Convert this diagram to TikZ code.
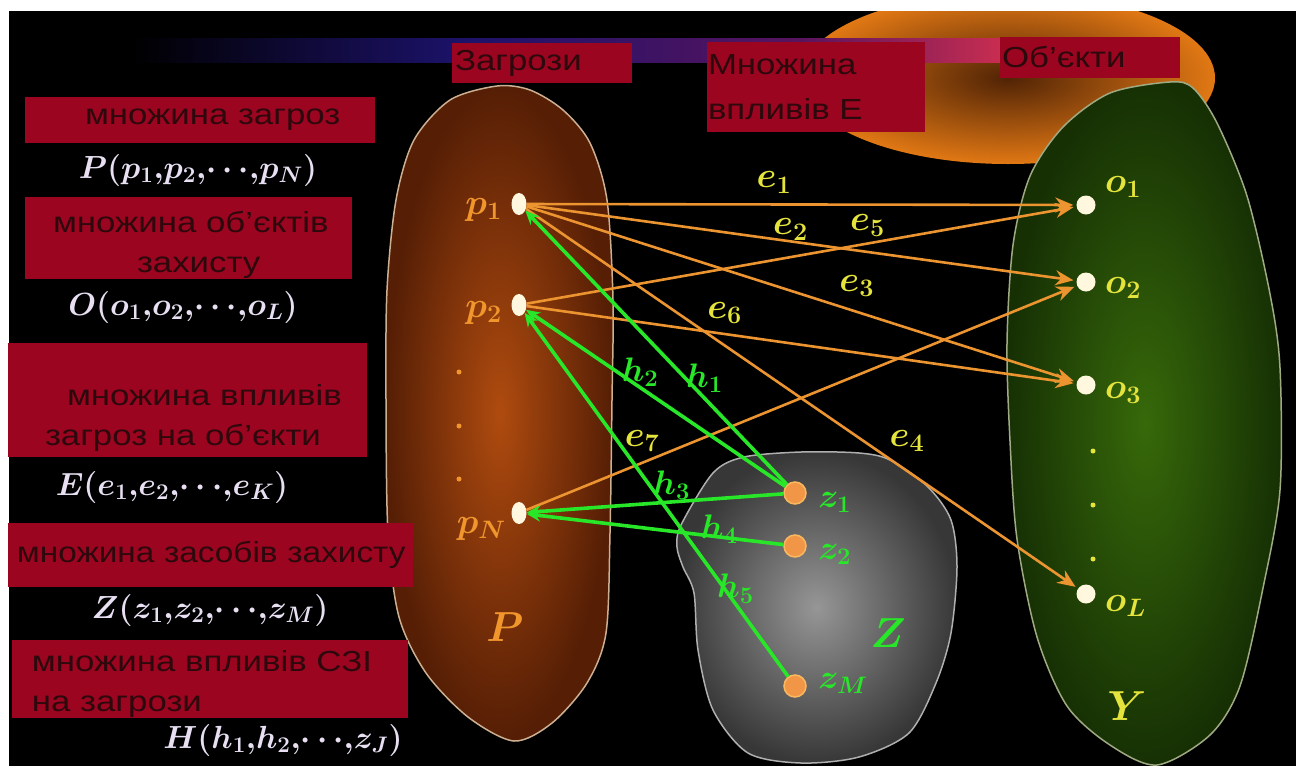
\RequirePackage{fix-cm}
\documentclass[tikz,border=0pt]{standalone}
\usepackage[no-math]{fontspec}
\setmainfont{Liberation Sans}[FakeStretch=1.2]
\newfontfamily\narrowsans{Liberation Sans}[FakeStretch=1.15]
\usepackage{amsmath}
\usetikzlibrary{arrows.meta, positioning, shapes.geometric}
\definecolor{boxred}{RGB}{155,5,32}
\definecolor{boxtext}{RGB}{45,8,12}
\definecolor{pale}{RGB}{232,224,242}
\definecolor{threat}{RGB}{240,150,45}
\definecolor{impact}{RGB}{236,148,48}
\definecolor{elabel}{RGB}{228,228,60}
\definecolor{shield}{RGB}{40,230,40}
\definecolor{cream}{RGB}{255,248,222}
\definecolor{zfill}{RGB}{240,150,70}
\definecolor{zrim}{RGB}{250,185,95}
\definecolor{navy}{RGB}{28,18,105}
\definecolor{plum}{RGB}{88,20,95}
\definecolor{rose}{RGB}{200,45,80}
\definecolor{glowin}{RGB}{80,35,5}
\definecolor{glowout}{RGB}{225,120,20}
\definecolor{pcore}{RGB}{175,75,15}
\definecolor{pedge}{RGB}{85,30,5}
\definecolor{pline}{RGB}{205,175,145}
\definecolor{zcore}{RGB}{150,150,150}
\definecolor{zedge}{RGB}{55,55,55}
\definecolor{zline}{RGB}{175,175,175}
\definecolor{ycore}{RGB}{55,105,10}
\definecolor{yedge}{RGB}{22,48,4}
\definecolor{yline}{RGB}{160,170,130}

\begin{document}
\begin{tikzpicture}[x=1pt, y=-1pt,
  redtag/.style={fill=boxred, text=boxtext, inner sep=0pt, align=left,
    font=\fontsize{29}{40}\selectfont},
  setlbl/.style={text=pale, font=\fontsize{32}{40}\selectfont\boldmath},
  pdot/.style={ellipse, fill=cream, minimum width=15, minimum height=22, inner sep=0pt},
  odot/.style={circle, fill=cream, minimum size=19, inner sep=0pt},
  zdot/.style={circle, fill=zfill, draw=zrim, line width=1.5, minimum size=22, inner sep=0pt},
  eline/.style={impact, line width=2.6, -{Stealth[length=18pt, width=15pt]}, shorten >=3pt},
  hline/.style={shield, line width=3.6, -{Stealth[length=14pt, width=12pt]}},
  elab/.style={text=elabel, font=\fontsize{36}{40}\selectfont\boldmath},
  hlab/.style={text=shield, font=\fontsize{34}{40}\selectfont\boldmath},
  plab/.style={text=threat, font=\fontsize{36}{40}\selectfont\boldmath},
  olab/.style={text=elabel, font=\fontsize{36}{40}\selectfont\boldmath},
  zlab/.style={text=shield, font=\fontsize{34}{40}\selectfont\boldmath},
  dotdot/.style={circle, inner sep=0pt, minimum size=5}]
  \useasboundingbox (0,0) rectangle (1298,769);
  \fill[white] (0,0) rectangle (1298,769);
  \fill[black] (9,11) rectangle (1296,766);

  % тло: сяйво, смуга, множини
  \begin{scope}
    \clip (9,11) rectangle (1296,766);
    \shade[inner color=glowin, outer color=glowout] (1008,78) ellipse [x radius=207, y radius=86];
    \shade[left color=black, right color=navy] (130,38) rectangle (460,62);
    \shade[left color=navy, right color=plum] (460,38) rectangle (800,62);
    \shade[left color=plum, right color=rose] (800,38) rectangle (1000,62);
    \shade[inner color=pcore, outer color=pedge, draw=pline, line width=1.5]
      plot[smooth cycle] coordinates {(497,86) (530,90) (563,110) (590,143) (607,200)
        (613,300) (612,400) (610,533) (606,633) (587,683) (552,723) (514,741)
        (468,717) (426,673) (399,617) (388,533) (386,400) (387,290) (396,200)
        (414,140) (450,100)};
    \shade[inner color=zcore, outer color=zedge, draw=zline, line width=1.5]
      plot[smooth cycle] coordinates {(713,473) (744,457) (801,452) (859,453)
        (890,460) (928,487) (951,520) (957,567) (951,633) (936,683) (909,733)
        (859,757) (801,763) (748,753) (713,710) (698,650) (694,593) (683,567)
        (677,547) (681,525)};
    \shade[inner color=ycore, outer color=yedge, draw=yline, line width=1.5]
      plot[smooth cycle] coordinates {(1170,82) (1110,93) (1063,127) (1030,176)
        (1013,245) (1007,343) (1010,441) (1017,539) (1037,637) (1067,706)
        (1110,745) (1157,765) (1210,735) (1240,686) (1263,588) (1280,490)
        (1280,368) (1270,294) (1247,196) (1217,123) (1193,88)};
  \end{scope}

  % вершини
  \node[pdot] (p1) at (519,204) {};
  \node[pdot] (p2) at (519,305) {};
  \node[pdot] (pN) at (519,513) {};
  \node[odot] (o1) at (1086,205) {};
  \node[odot] (o2) at (1086,282) {};
  \node[odot] (o3) at (1086,385) {};
  \node[odot] (oL) at (1086,594) {};
  \node[zdot] (z1) at (795,493) {};
  \node[zdot] (z2) at (795,546) {};
  \node[zdot] (zM) at (795,686) {};
  \foreach \y in {372,426,479}
    \node[dotdot, fill=threat] at (459,\y) {};
  \foreach \y in {451,505,559}
    \node[dotdot, fill=elabel] at (1093,\y) {};

  \node[plab, left=6pt of p1, yshift=-6pt] (lp1) {$p_1$};
  \node[plab, left=6pt of p2, yshift=-8pt] (lp2) {$p_2$};
  \node[plab, left=2pt of pN, yshift=-16pt] (lpN) {$p_N$};
  \node[olab, right=6pt of o1, yshift=18pt] (lo1) {$o_1$};
  \node[olab, right=6pt of o2, yshift=-6pt] (lo2) {$o_2$};
  \node[olab, right=6pt of o3, yshift=-8pt] (lo3) {$o_3$};
  \node[olab, right=6pt of oL, yshift=-12pt] (loL) {$o_L$};
  \node[zlab, right=8pt of z1, yshift=-9pt] (lz1) {$z_1$};
  \node[zlab, right=8pt of z2, yshift=-8pt] (lz2) {$z_2$};
  \node[zlab, right=8pt of zM, yshift=3pt] (lzM) {$z_M$};
  \node[plab, font=\fontsize{42}{44}\selectfont\boldmath] (setP) at (505,627) {$P$};
  \node[zlab, font=\fontsize{42}{44}\selectfont\boldmath] (setZ) at (888,633) {$Z$};
  \node[olab, font=\fontsize{42}{44}\selectfont\boldmath] (setY) at (1127,706) {$Y$};

  % впливи загроз на об'єкти
  \draw[eline] (p1) -- (o1) node[elab, pos=.45, yshift=22] {$e_1$};
  \draw[eline] (p1) -- (o2) node[elab, pos=.48, yshift=12] {$e_2$};
  \draw[eline] (p1) -- (o3) node[elab, pos=.60, yshift=26] {$e_3$};
  \draw[eline] (p1) -- (oL) node[elab, pos=.69, yshift=30] {$e_4$};
  \draw[eline] (p2) -- (o1) node[elab, pos=.62, yshift=18] {$e_5$};
  \draw[eline] (p2) -- (o3) node[elab, pos=.36, yshift=21] {$e_6$};
  \draw[eline] (pN) -- (o2) node[elab, pos=.21, yshift=22] {$e_7$};

  % впливи СЗІ на загрози
  \draw[hline] (z1) -- (p1) node[hlab, pos=.315, yshift=20] {$h_1$};
  \draw[hline] (z1) -- (p2) node[hlab, pos=.56, yshift=15] {$h_2$};
  \draw[hline] (z1) -- (pN) node[hlab, pos=.435, yshift=17] {$h_3$};
  \draw[hline] (z2) -- (pN) node[hlab, pos=.25, yshift=8] {$h_4$};
  \draw[hline] (zM) -- (p2) node[hlab, pos=.2, yshift=15] {$h_5$};

  % заголовки
  \node[redtag, minimum width=180, minimum height=40, text width=180] (tThreat) at (542,63)
    {\hspace*{3pt}Загрози};
  \node[redtag, minimum width=218, minimum height=90, text width=218,
    font=\fontsize{29}{45}\selectfont] (tImpact) at (816,87)
    {\hspace*{1pt}Множина\\\hspace*{1pt}впливів Е};
  \node[redtag, minimum width=180, minimum height=41, text width=180] (tObject) at (1090,57.5)
    {\hspace*{2pt}Об'єкти};

  % позначення множин
  \node[redtag, minimum width=350, minimum height=46, text width=350] (bP) at (200,120)
    {\hspace*{60pt}множина загроз};
  \node[setlbl] (defP) at (198,170) {$P(p_1{,}p_2{,}{\cdots}{,}p_N)$};
  \node[redtag, minimum width=327, minimum height=80, text width=327, text height=36pt] (bO) at (188.5,238)
    {\hspace*{28pt}множина об'єктів\\\hspace*{112pt}захисту};
  \node[setlbl] (defO) at (183,307) {$O(o_1{,}o_2{,}{\cdots}{,}o_L)$};
  \node[redtag, minimum width=359, minimum height=114, text width=359, text height=58pt] (bE) at (187.5,400)
    {\hspace*{59pt}множина впливів\\\hspace*{37pt}загроз на об'єкти};
  \node[setlbl] (defE) at (172,487) {$E(e_1{,}e_2{,}{\cdots}{,}e_K)$};
  \node[redtag, minimum width=405, minimum height=64, text width=405] (bZ) at (210.5,555)
    {\narrowsans\hspace*{9pt}множина засобів захисту};
  \node[setlbl] (defZ) at (210,610) {$Z(z_1{,}z_2{,}{\cdots}{,}z_M)$};
  \node[redtag, minimum width=396, minimum height=78, text width=396, text height=31pt] (bH) at (210,679)
    {\hspace*{20pt}множина впливів СЗІ\\\hspace*{20pt}на загрози};
  \node[setlbl] (defH) at (283,740) {$H(h_1{,}h_2{,}{\cdots}{,}z_J)$};
\end{tikzpicture}
\end{document}
